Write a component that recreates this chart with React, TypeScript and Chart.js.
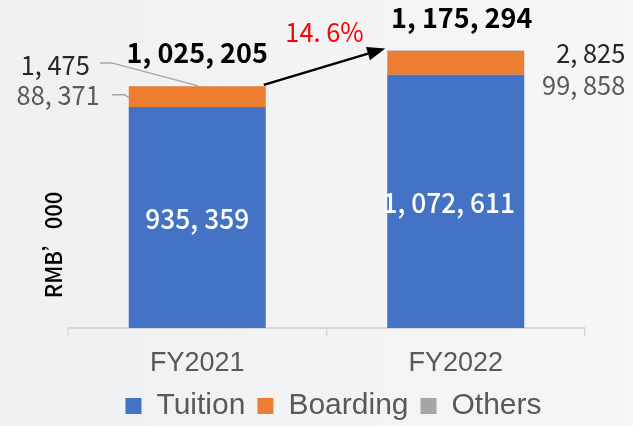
import { useEffect, useRef } from 'react';
import { Chart, registerables } from 'chart.js';

Chart.register(...registerables);

const categories = ['FY2021', 'FY2022'];
const seriesNames = ['Tuition', 'Boarding', 'Others'];
const tuition = [935359, 1072611];
const boarding = [88371, 99858];
const others = [1475, 2825];
const yAxisTitle = 'RMB’000';
const yMax = 1355000;

const colors = ['#4472c4', '#ed7d31', '#a5a5a5'];
const FONT = "'Liberation Sans', Arial, sans-serif";
const LFONT = "'Noto Sans CJK SC', 'Liberation Sans', sans-serif";

const totals = categories.map((_, i) => tuition[i] + boarding[i] + others[i]);
const fmt = (n: number) => n.toLocaleString('en-US').replace(/,/g, ', ');
const growth = () => {
  const g = ((totals[1] / totals[0] - 1) * 100).toFixed(1);
  return g.replace('.', '. ') + '%';
};

function txt(
  ctx: CanvasRenderingContext2D,
  s: string,
  x: number,
  y: number,
  size: number,
  color: string,
  opts: { align?: CanvasTextAlign; weight?: string; sx?: number; family?: string } = {}
) {
  ctx.save();
  ctx.translate(x, y);
  ctx.scale(opts.sx ?? 1, 1);
  ctx.font = `${opts.weight ?? '500'} ${size}px ${opts.family ?? LFONT}`;
  ctx.fillStyle = color;
  ctx.textAlign = opts.align ?? 'center';
  ctx.textBaseline = 'middle';
  ctx.fillText(s, 0, 0);
  ctx.restore();
}

function poly(ctx: CanvasRenderingContext2D, pts: number[][], color: string, w: number) {
  ctx.save();
  ctx.strokeStyle = color;
  ctx.lineWidth = w;
  ctx.beginPath();
  pts.forEach((p, i) => (i === 0 ? ctx.moveTo(p[0], p[1]) : ctx.lineTo(p[0], p[1])));
  ctx.stroke();
  ctx.restore();
}

const bgPlugin = {
  id: 'bg',
  beforeDraw(chart: any) {
    const { ctx, width, height } = chart;
    const g = ctx.createLinearGradient(0, 0, width, 0);
    g.addColorStop(0, '#eff0f2');
    g.addColorStop(1, '#f6f6f7');
    ctx.save();
    ctx.fillStyle = g;
    ctx.fillRect(0, 0, width, height);
    ctx.restore();
  },
};

const labelPlugin = {
  id: 'labels',
  afterDatasetsDraw(chart: any) {
    const ctx: CanvasRenderingContext2D = chart.ctx;
    const mT = chart.getDatasetMeta(0).data;
    const mB = chart.getDatasetMeta(1).data;
    const mO = chart.getDatasetMeta(2).data;
    const tops: number[] = [];
    const lefts: number[] = [];
    const rights: number[] = [];
    categories.forEach((_, i) => {
      const t = mT[i];
      const b = mB[i];
      const o = mO[i];
      const left = t.x - t.width / 2;
      const right = t.x + t.width / 2;
      const top = o.y;
      tops.push(top);
      lefts.push(left);
      rights.push(right);
      // tuition label
      txt(ctx, fmt(tuition[i]), t.x - (i === 1 ? 7 : 0), (t.y + t.base) / 2 + 1, 28, '#ffffff', { sx: 0.94 });
      // total
      txt(ctx, fmt(totals[i]), t.x + (i === 1 ? 6 : 0), top - 33, 27, '#000000', { weight: 'bold', sx: 1.0 });
      const bMid = (b.y + b.base) / 2;
      if (i === 0) {
        txt(ctx, fmt(others[i]), left - 39, top - 21, 27, '#262626', { align: 'right', sx: 0.94, weight: '400' });
        txt(ctx, fmt(boarding[i]), left - 29, bMid - 2, 27, '#595959', { align: 'right', sx: 0.94, weight: '400' });
        poly(ctx, [[left - 29, top - 23], [left - 17, top - 23], [t.x + 1, top]], '#a6a6a6', 1.5);
        poly(ctx, [[left - 17, bMid - 2], [left - 4, bMid - 2], [left, bMid + 1]], '#a6a6a6', 1.5);
      } else {
        txt(ctx, fmt(others[i]), right + 101, top + 2, 27, '#262626', { align: 'right', sx: 0.94, weight: '400' });
        txt(ctx, fmt(boarding[i]), right + 101, bMid + 22, 27, '#595959', { align: 'right', sx: 0.94, weight: '400' });
      }
    });
    // growth arrow
    const x0 = rights[0] - 2;
    const y0 = tops[0] - 1;
    const x1 = lefts[1] - 2;
    const y1 = tops[1] - 2;
    const ang = Math.atan2(y1 - y0, x1 - x0);
    const hl = 18;
    const hw = 7;
    const bx = x1 - hl * Math.cos(ang);
    const by = y1 - hl * Math.sin(ang);
    poly(ctx, [[x0, y0], [bx, by]], '#000000', 2.5);
    ctx.save();
    ctx.fillStyle = '#000000';
    ctx.beginPath();
    ctx.moveTo(x1, y1);
    ctx.lineTo(bx + hw * Math.sin(ang), by - hw * Math.cos(ang));
    ctx.lineTo(bx - hw * Math.sin(ang), by + hw * Math.cos(ang));
    ctx.closePath();
    ctx.fill();
    ctx.restore();
    txt(ctx, growth(), (x0 + x1) / 2, (y0 + y1) / 2 - 35, 27, '#ff0000', { sx: 0.94, weight: '400' });
    // axis title
    const ca = chart.chartArea;
    ctx.save();
    ctx.translate(ca.left - 15, ca.bottom - 83);
    ctx.rotate(-Math.PI / 2);
    ctx.font = "500 23px 'Noto Sans CJK SC', sans-serif";
    ctx.fillStyle = '#000000';
    ctx.textAlign = 'center';
    ctx.textBaseline = 'middle';
    ctx.scale(0.95, 1);
    ctx.fillText(yAxisTitle, 0, 0);
    ctx.restore();
  },
};

export default function App() {
  const ref = useRef<HTMLCanvasElement | null>(null);
  useEffect(() => {
    document.body.style.margin = '0';
    document.body.style.background = '#f2f3f4';
    const canvas = ref.current;
    if (!canvas) return;
    const chart = new Chart(canvas, {
      type: 'bar',
      data: {
        labels: categories,
        datasets: [tuition, boarding, others].map((d, i) => ({
          label: seriesNames[i],
          data: d,
          backgroundColor: colors[i],
          borderWidth: 0,
          barPercentage: 0.53,
          categoryPercentage: 1,
        })),
      },
      options: {
        responsive: false,
        animation: false,
        layout: { padding: { left: 34, right: 0, top: 8, bottom: 0 } },
        plugins: {
          legend: {
            position: 'bottom',
            maxHeight: 47,
            labels: {
              color: '#595959',
              font: { family: FONT, size: 30 },
              boxWidth: 16,
              boxHeight: 16,
              padding: 12,
            },
          },
          tooltip: { enabled: false },
        },
        scales: {
          x: {
            stacked: true,
            grid: {
              display: true,
              offset: true,
              drawOnChartArea: false,
              drawTicks: true,
              tickLength: 8,
              color: '#d9d9d9',
              lineWidth: 1.5,
            },
            border: { display: true, color: '#d9d9d9', width: 2 },
            ticks: {
              color: '#595959',
              font: { family: FONT, size: 27 },
              padding: 11,
            },
            afterFit: (s: any) => {
              s.height = 51;
            },
          },
          y: {
            stacked: true,
            min: 0,
            max: yMax,
            display: true,
            grid: { display: false },
            border: { display: false },
            ticks: { display: false },
            afterFit: (s: any) => {
              s.width = 34;
            },
          },
          yR: {
            type: 'linear',
            position: 'right',
            display: true,
            grid: { display: false },
            border: { display: false },
            ticks: { display: false },
            afterFit: (s: any) => {
              s.width = 48;
            },
          },
        },
      } as any,
      plugins: [bgPlugin, labelPlugin],
    });
    return () => chart.destroy();
  }, []);
  return (
    <div style={{ width: 633, height: 426 }}>
      <canvas ref={ref} width={633} height={426} style={{ display: 'block' }} />
    </div>
  );
}
